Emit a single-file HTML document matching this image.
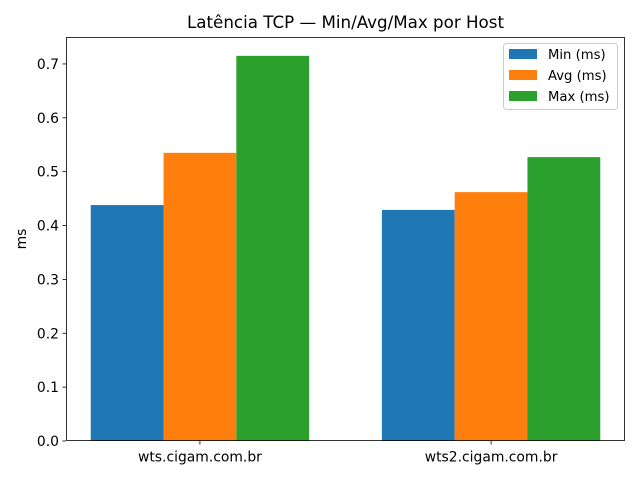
<!DOCTYPE html>
<html><head><meta charset="utf-8"><style>
body{margin:0;background:#fff;}
svg{display:block;font-family:"DejaVu Sans","Liberation Sans",sans-serif;}
</style></head><body>
<svg id="chart" width="640" height="480" xmlns="http://www.w3.org/2000/svg">
<rect width="640" height="480" fill="#fff"/>
<text x="345.5" y="28" text-anchor="middle" font-size="16.7" fill="#000">Latência TCP — Min/Avg/Max por Host</text>
<g id="bars"></g>
<g id="axes"></g>
<text transform="translate(26,239) rotate(-90)" text-anchor="middle" font-size="13.9">ms</text>
<g>
<rect x="503.5" y="43.5" width="114" height="66" rx="3" fill="#fff" fill-opacity="0.8" stroke="#ccc"/>
<g id="legend-entries"></g>
</g>
</svg>
<script>
const categories = ["wts.cigam.com.br", "wts2.cigam.com.br"];
const seriesNames = ["Min (ms)", "Avg (ms)", "Max (ms)"];
const minVals = [0.438, 0.429];
const avgVals = [0.535, 0.462];
const maxVals = [0.715, 0.527];
const yTicks = [0, 0.1, 0.2, 0.3, 0.4, 0.5, 0.6, 0.7];
const colors = ["#1f77b4", "#ff7f0e", "#2ca02c"];
const series = [minVals, avgVals, maxVals];
const NS = "http://www.w3.org/2000/svg";
const L = 66, R = 625, T = 37, B = 441;
const xMin = -0.46, xMax = 1.46, yMax = 0.75;
const xs = v => L + (v - xMin) / (xMax - xMin) * (R - L);
const ys = v => B - v / yMax * (B - T);
const bw = 0.25;
function mk(tag, attrs, parent) { const e = document.createElementNS(NS, tag); for (const k in attrs) e.setAttribute(k, attrs[k]); parent.appendChild(e); return e; }
const bars = document.getElementById('bars');
series.forEach((vals, s) => {
  vals.forEach((v, i) => {
    const c = i + (s - 1) * bw;
    const r = mk('rect', { x: xs(c - bw / 2), y: ys(v), width: xs(c + bw / 2) - xs(c - bw / 2), height: ys(0) - ys(v), fill: colors[s] }, bars);
    
    
  });
});
const axes = document.getElementById('axes');
const frame = mk('rect', { x: L + 0.5, y: T + 0.5, width: R - L - 1, height: B - T - 1, fill: 'none', stroke: '#000', 'stroke-width': 0.8 }, axes);


yTicks.forEach(t => {
  const y = ys(t);
  mk('line', { x1: L, x2: L - 3.5, y1: y, y2: y, stroke: '#000', 'stroke-width': 0.8 }, axes);
  const tx = mk('text', { x: L - 7, y: y + 5, 'text-anchor': 'end', 'font-size': 13.9 }, axes);
  tx.textContent = t.toFixed(1);
  
  
});
categories.forEach((c, i) => {
  const x = xs(i);
  mk('line', { x1: x, x2: x, y1: B, y2: B + 3.5, stroke: '#000', 'stroke-width': 0.8 }, axes);
  const tx = mk('text', { x: x, y: B + 20.5, 'text-anchor': 'middle', 'font-size': 13.9 }, axes);
  tx.textContent = c;
  
  
});
const lg = document.getElementById('legend-entries');
seriesNames.forEach((n, s) => {
  const y = 54 + s * 21;
  const g = mk('g', {}, lg);
  
  
  mk('rect', { x: 509, y: y - 5, width: 28, height: 10, fill: colors[s] }, g);
  const t = mk('text', { x: 548, y: y + 5, 'font-size': 13.2 }, g);
  t.textContent = n;
});
</script>
</body></html>
